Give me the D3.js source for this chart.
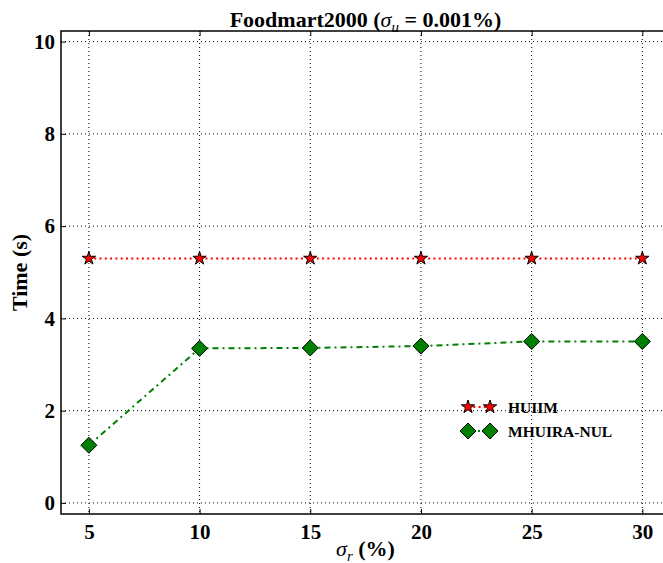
<!DOCTYPE html>
<html><head><meta charset="utf-8">
<script src="https://cdn.jsdelivr.net/npm/d3@7"></script>
<style>body{margin:0;background:#fff}svg{display:block}text{font-family:"Liberation Serif","Times New Roman",serif;font-weight:bold}</style>
</head><body><div id="c"></div>
<script>
const sigmaR = [5, 10, 15, 20, 25, 30];
const huiim = [5.3, 5.3, 5.3, 5.3, 5.3, 5.3];
const mhuira = [1.25, 3.35, 3.36, 3.40, 3.50, 3.50];
const xTicks = [5, 10, 15, 20, 25, 30];
const yTicks = [0, 2, 4, 6, 8, 10];
const seriesNames = ["HUIIM", "MHUIRA-NUL"];

const W = 663, H = 563;
const svg = d3.select("#c").append("svg").attr("width", W).attr("height", H);
const L = 61, R = 670, T = 31, B = 514;
const x = d3.scaleLinear().domain([3.74, 31.25]).range([L, R]);
const y = d3.scaleLinear().domain([-0.24, 10.23]).range([B, T]);
const cx = (L + R) / 2;

// grid
const g = svg.append("g");
g.selectAll(".gx").data(xTicks).join("line")
  .attr("x1", d => x(d)).attr("x2", d => x(d)).attr("y1", T).attr("y2", B)
  .attr("stroke", "#000").attr("stroke-width", 1).attr("stroke-dasharray", "1,3");
g.selectAll(".gy").data(yTicks).join("line")
  .attr("y1", d => y(d)).attr("y2", d => y(d)).attr("x1", L).attr("x2", R)
  .attr("stroke", "#000").attr("stroke-width", 1).attr("stroke-dasharray", "1,3");

// axes
const xAxis = d3.axisBottom(x).tickValues(xTicks).tickSizeInner(-5).tickSizeOuter(0).tickPadding(10);
const yAxis = d3.axisLeft(y).tickValues(yTicks).tickSizeInner(-5).tickSizeOuter(0).tickPadding(6);
const gx = svg.append("g").attr("transform", `translate(0,${B})`).call(xAxis);
const gy = svg.append("g").attr("transform", `translate(${L},0)`).call(yAxis);
[gx, gy].forEach(a => {
  a.select(".domain").remove();
  a.selectAll("text").attr("font-size", 21).attr("fill", "#000")
    .style("font-family", '"Liberation Serif",serif').style("font-weight", "bold");
  a.selectAll(".tick line").attr("stroke", "#000").attr("stroke-width", 1);
});
svg.append("g").attr("transform", `translate(0,${T})`)
  .call(d3.axisTop(x).tickValues(xTicks).tickSizeInner(-5).tickSizeOuter(0).tickFormat(""))
  .call(a => a.select(".domain").remove());

// frame
svg.append("rect").attr("x", L).attr("y", T).attr("width", R - L).attr("height", B - T)
  .attr("fill", "none").attr("stroke", "#000").attr("stroke-width", 1.5);

// lines
const line = d3.line().x(d => x(d[0])).y(d => y(d[1]));
const d1 = sigmaR.map((v, i) => [v, huiim[i]]);
const d2 = sigmaR.map((v, i) => [v, mhuira[i]]);
svg.append("path").attr("d", line(d1)).attr("fill", "none").attr("stroke", "#ff0000")
  .attr("stroke-width", 2).attr("stroke-dasharray", "2,3.3");
svg.append("path").attr("d", line(d2)).attr("fill", "none").attr("stroke", "#008000")
  .attr("stroke-width", 2).attr("stroke-dasharray", "6,4,2,4");

const star = d3.symbol().type(d3.symbolStar).size(55);
const diamond = "M0,-8L8,0L0,8L-8,0Z";
svg.selectAll(".s1").data(d1).join("path")
  .attr("transform", d => `translate(${x(d[0])},${y(d[1])})`)
  .attr("d", star()).attr("fill", "#ff0000").attr("stroke", "#000").attr("stroke-width", 1);
svg.selectAll(".s2").data(d2).join("path")
  .attr("transform", d => `translate(${x(d[0])},${y(d[1])})`)
  .attr("d", diamond).attr("fill", "#008000").attr("stroke", "#000").attr("stroke-width", 1);

// legend
const lg = svg.append("g");
const ly = [407, 431];
lg.append("line").attr("x1", 468).attr("x2", 490).attr("y1", ly[0]).attr("y2", ly[0])
  .attr("stroke", "#ff0000").attr("stroke-width", 2).attr("stroke-dasharray", "2,3.3");
lg.append("line").attr("x1", 468).attr("x2", 490).attr("y1", ly[1]).attr("y2", ly[1])
  .attr("stroke", "#008000").attr("stroke-width", 2).attr("stroke-dasharray", "6,4,2,4");
[468, 490].forEach(px => {
  lg.append("path").attr("transform", `translate(${px},${ly[0]})`).attr("d", star())
    .attr("fill", "#ff0000").attr("stroke", "#000").attr("stroke-width", 1);
  lg.append("path").attr("transform", `translate(${px},${ly[1]})`).attr("d", diamond)
    .attr("fill", "#008000").attr("stroke", "#000").attr("stroke-width", 1);
});
seriesNames.forEach((n, i) => {
  lg.append("text").attr("x", 508).attr("y", ly[i] + 5.5).attr("font-size", 15.5).attr("fill", "#000").text(n);
});

// title
const t = svg.append("text").attr("x", cx).attr("y", 27).attr("text-anchor", "middle")
  .attr("font-size", 22).attr("fill", "#000");
t.append("tspan").text("Foodmart2000 (");
t.append("tspan").attr("font-style", "italic").attr("font-weight", "normal").text("σ");
t.append("tspan").attr("font-style", "italic").attr("font-weight", "normal").attr("font-size", 15).attr("dy", 5).text("u");
t.append("tspan").attr("dy", -5).text(" = 0.001%)");

// x label
const xl = svg.append("text").attr("x", cx).attr("y", 556).attr("text-anchor", "middle")
  .attr("font-size", 22).attr("fill", "#000");
xl.append("tspan").attr("font-style", "italic").attr("font-weight", "normal").text("σ");
xl.append("tspan").attr("font-style", "italic").attr("font-weight", "normal").attr("font-size", 15).attr("dy", 5).text("r");
xl.append("tspan").attr("dy", -5).text(" (%)");

// y label
svg.append("text").attr("transform", `translate(27,${(T + B) / 2}) rotate(-90)`)
  .attr("text-anchor", "middle").attr("font-size", 22).attr("fill", "#000").text("Time (s)");
</script></body></html>
